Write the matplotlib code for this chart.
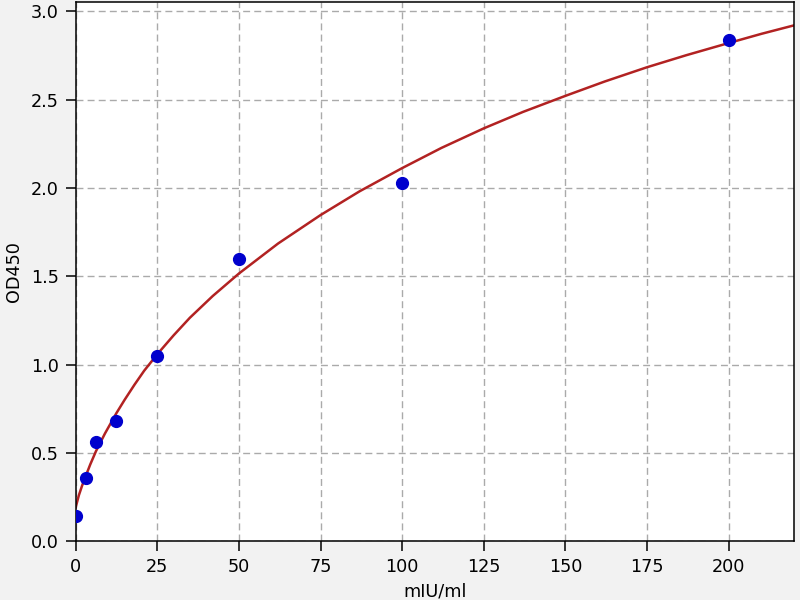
import matplotlib
matplotlib.use("Agg")
import matplotlib.pyplot as plt

# standard points (mIU/ml vs OD450)
conc = [0, 3.125, 6.25, 12.5, 25, 50, 100, 200]
od = [0.14, 0.355, 0.56, 0.68, 1.05, 1.60, 2.025, 2.835]

# fitted curve
curve_x = [0, 1, 2, 3.125, 4.5, 6.25, 9, 12.5, 15, 18, 21, 25, 30, 35, 42, 50,
           62, 75, 87, 100, 112, 125, 137, 150, 162, 175, 187, 200, 210, 220]
curve_y = [0.19, 0.26, 0.315, 0.37, 0.435, 0.51, 0.61, 0.725, 0.8, 0.885,
           0.965, 1.058, 1.165, 1.265, 1.388, 1.515, 1.685, 1.846, 1.981,
           2.112, 2.226, 2.337, 2.43, 2.521, 2.602, 2.683, 2.751, 2.82,
           2.872, 2.92]

xticks = [0, 25, 50, 75, 100, 125, 150, 175, 200]
yticks = [0.0, 0.5, 1.0, 1.5, 2.0, 2.5, 3.0]

plt.rcParams.update({
    "font.size": 12.7,
    "axes.linewidth": 1.1,
    "xtick.major.size": 7,
    "ytick.major.size": 7,
    "xtick.major.width": 1.1,
    "ytick.major.width": 1.1,
    "xtick.major.pad": 5,
    "ytick.major.pad": 5,
})

fig = plt.figure(figsize=(8, 6), dpi=100, facecolor="#f2f2f2")
ax = fig.add_axes([0.0945, 0.098, 0.898, 0.898])
ax.set_facecolor("white")

ax.plot(curve_x, curve_y, color="#b22222", linewidth=1.8, zorder=2)
ax.plot(conc, od, "o", color="#0000cd", markersize=8.5, zorder=3)

ax.set_xlim(0, 220)
ax.set_ylim(0, 3.05)
ax.set_xticks(xticks)
ax.set_yticks(yticks)
ax.set_yticklabels([f"{v:.1f}" for v in yticks])
ax.grid(True, linestyle="--", color="#aaaaaa", linewidth=1.0, dashes=(5, 3))
ax.set_axisbelow(True)

ax.set_xlabel("mIU/ml", labelpad=5)
ax.set_ylabel("OD450", labelpad=6)

fig.savefig("out.png", dpi=100, facecolor=fig.get_facecolor())
